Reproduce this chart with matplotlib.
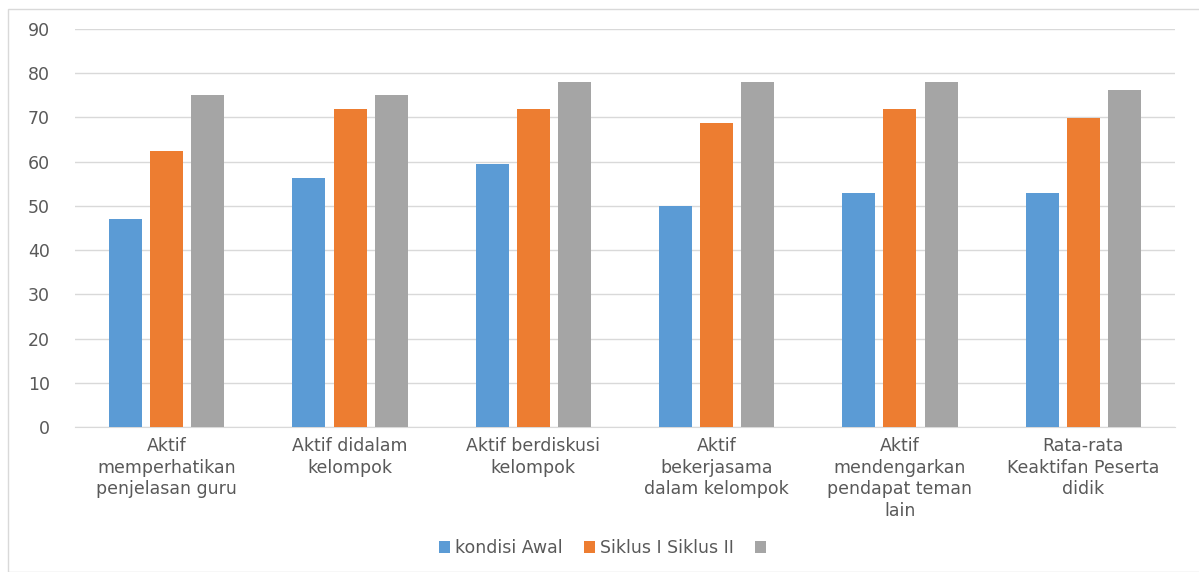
import matplotlib
matplotlib.use("Agg")
import matplotlib.pyplot as plt
import numpy as np
from matplotlib.patches import Rectangle, Patch

categories = ["Aktif\nmemperhatikan\npenjelasan guru", "Aktif didalam\nkelompok",
              "Aktif berdiskusi\nkelompok", "Aktif\nbekerjasama\ndalam kelompok",
              "Aktif\nmendengarkan\npendapat teman\nlain", "Rata-rata\nKeaktifan Peserta\ndidik"]
kondisi_awal = [47, 56.3, 59.5, 50, 53, 53]
siklus_1 = [62.5, 71.8, 71.8, 68.8, 71.8, 69.8]
siklus_2 = [75, 75, 78.1, 78.1, 78.1, 76.2]
series_labels = ["kondisi Awal", "Siklus I Siklus II", " "]
colors = ["#5B9BD5", "#ED7D31", "#A5A5A5"]
yticks = [0, 10, 20, 30, 40, 50, 60, 70, 80, 90]

fig = plt.figure(figsize=(11.99, 5.72), dpi=100)
ax = fig.add_axes([75/1199, 1-427/572, 1100/1199, (427-29)/572])

x = np.arange(len(categories))
w = 0.18
step = 0.224
for i, (vals, c, lab) in enumerate(zip([kondisi_awal, siklus_1, siklus_2], colors, series_labels)):
    ax.bar(x + (i-1)*step, vals, width=w, color=c, label=lab, zorder=3)

ax.set_xlim(-0.5, len(categories)-0.5)
ax.set_ylim(0, 90)
ax.set_yticks(yticks)
ax.grid(axis='y', color='#D9D9D9', linewidth=1, zorder=0)
for s in ['top', 'right', 'left']:
    ax.spines[s].set_visible(False)
ax.spines['bottom'].set_color('#D9D9D9')
ax.tick_params(axis='both', length=0, colors='#595959', labelsize=12.5)
ax.tick_params(axis='y', pad=18)
ax.tick_params(axis='x', pad=7)
ax.set_xticks(x)
ax.set_xticklabels(categories, fontsize=12.5, color='#595959', linespacing=1.27)

handles = [Patch(facecolor=c, edgecolor='none') for c in colors]
fig.legend(handles, series_labels, loc='center', bbox_to_anchor=(608/1199, 1-548/572), ncol=3,
           frameon=False, fontsize=12.5, handlelength=0.65, handleheight=0.65,
           columnspacing=1.2, handletextpad=0.3, labelcolor='#595959')

fig.patches.append(Rectangle((8/1199, 0), 1.2, 1-9/572, transform=fig.transFigure,
                             fill=False, edgecolor='#D9D9D9', linewidth=1))

fig.savefig("out.png", dpi=100)
